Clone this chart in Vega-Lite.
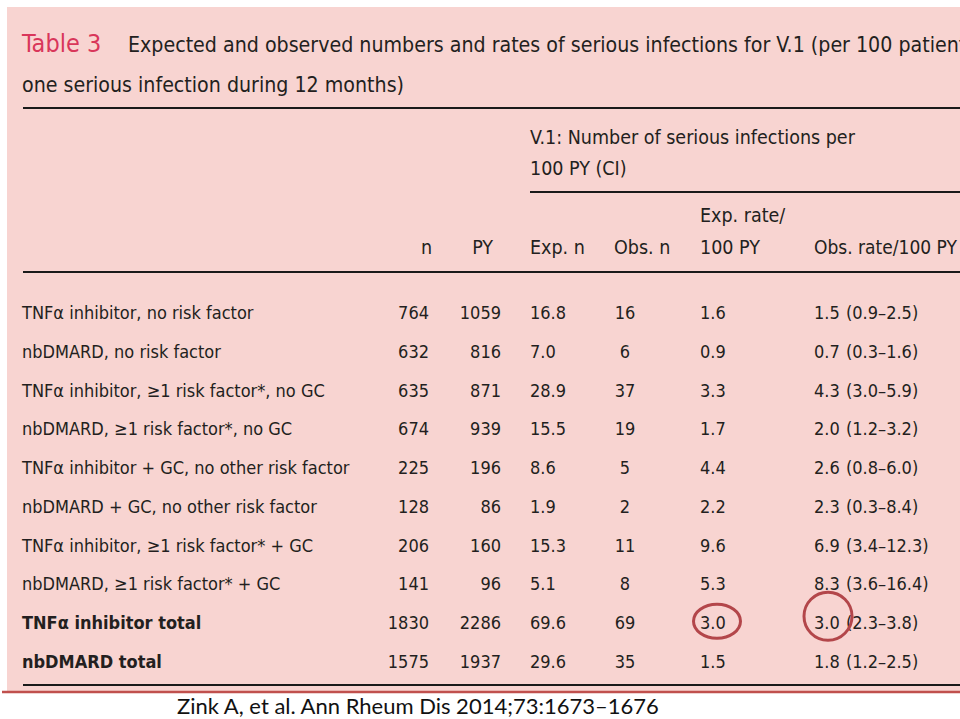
{
  "$schema": "https://vega.github.io/schema/vega-lite/v6.json",
  "width": 960,
  "height": 719,
  "autosize": {"type": "fit", "contains": "padding"},
  "padding": 0,
  "background": "#ffffff",
  "config": {
    "view": {"stroke": null},
    "text": {"font": "DejaVu Sans Condensed", "fontSize": 18, "color": "#231f20", "baseline": "alphabetic"}
  },
  "datasets": {
    "one": [{}],
    "table": [
      {"row": 1, "label": "TNFα inhibitor, no risk factor", "n": 764, "py": 1059, "expN": 16.8, "obsN": 16, "expRate": 1.6, "obsRate": 1.5, "ci": "(0.9–2.5)"},
      {"row": 2, "label": "nbDMARD, no risk factor", "n": 632, "py": 816, "expN": 7.0, "obsN": 6, "expRate": 0.9, "obsRate": 0.7, "ci": "(0.3–1.6)"},
      {"row": 3, "label": "TNFα inhibitor, ≥1 risk factor*, no GC", "n": 635, "py": 871, "expN": 28.9, "obsN": 37, "expRate": 3.3, "obsRate": 4.3, "ci": "(3.0–5.9)"},
      {"row": 4, "label": "nbDMARD, ≥1 risk factor*, no GC", "n": 674, "py": 939, "expN": 15.5, "obsN": 19, "expRate": 1.7, "obsRate": 2.0, "ci": "(1.2–3.2)"},
      {"row": 5, "label": "TNFα inhibitor + GC, no other risk factor", "n": 225, "py": 196, "expN": 8.6, "obsN": 5, "expRate": 4.4, "obsRate": 2.6, "ci": "(0.8–6.0)"},
      {"row": 6, "label": "nbDMARD + GC, no other risk factor", "n": 128, "py": 86, "expN": 1.9, "obsN": 2, "expRate": 2.2, "obsRate": 2.3, "ci": "(0.3–8.4)"},
      {"row": 7, "label": "TNFα inhibitor, ≥1 risk factor* + GC", "n": 206, "py": 160, "expN": 15.3, "obsN": 11, "expRate": 9.6, "obsRate": 6.9, "ci": "(3.4–12.3)"},
      {"row": 8, "label": "nbDMARD, ≥1 risk factor* + GC", "n": 141, "py": 96, "expN": 5.1, "obsN": 8, "expRate": 5.3, "obsRate": 8.3, "ci": "(3.6–16.4)"},
      {"row": 9, "label": "TNFα inhibitor total", "n": 1830, "py": 2286, "expN": 69.6, "obsN": 69, "expRate": 3.0, "obsRate": 3.0, "ci": "(2.3–3.8)"},
      {"row": 10, "label": "nbDMARD total", "n": 1575, "py": 1937, "expN": 29.6, "obsN": 35, "expRate": 1.5, "obsRate": 1.8, "ci": "(1.2–2.5)"}
    ]
  },
  "layer": [
    {
      "data": {"name": "one"},
      "mark": {"type": "rect", "fill": "#f8d4d1"},
      "encoding": {"x": {"value": 5}, "x2": {"value": 960}, "y": {"value": 7}, "y2": {"value": 691}}
    },
    {
      "data": {"name": "one"},
      "mark": {"type": "text", "text": "Table 3", "fontSize": 25, "color": "#d9365a", "align": "left"},
      "encoding": {"x": {"value": 20}, "y": {"value": 52}}
    },
    {
      "data": {"name": "one"},
      "mark": {"type": "text", "text": "Expected and observed numbers and rates of serious infections for V.1 (per 100 patient-years and patients with at least", "fontSize": 21.2, "align": "left"},
      "encoding": {"x": {"value": 126}, "y": {"value": 52}}
    },
    {
      "data": {"name": "one"},
      "mark": {"type": "text", "text": "one serious infection during 12 months)", "fontSize": 21.2, "align": "left"},
      "encoding": {"x": {"value": 20}, "y": {"value": 92}}
    },
    {
      "data": {"name": "one"},
      "mark": {"type": "rule", "color": "#1a1a1a", "strokeWidth": 2},
      "encoding": {"x": {"value": 21}, "x2": {"value": 960}, "y": {"value": 108}, "y2": {"value": 108}}
    },
    {
      "data": {"name": "one"},
      "mark": {"type": "rule", "color": "#1a1a1a", "strokeWidth": 2},
      "encoding": {"x": {"value": 528}, "x2": {"value": 960}, "y": {"value": 192}, "y2": {"value": 192}}
    },
    {
      "data": {"name": "one"},
      "mark": {"type": "rule", "color": "#1a1a1a", "strokeWidth": 2},
      "encoding": {"x": {"value": 21}, "x2": {"value": 960}, "y": {"value": 272}, "y2": {"value": 272}}
    },
    {
      "data": {"name": "one"},
      "mark": {"type": "rule", "color": "#1a1a1a", "strokeWidth": 2},
      "encoding": {"x": {"value": 21}, "x2": {"value": 960}, "y": {"value": 685}, "y2": {"value": 685}}
    },
    {
      "data": {"name": "one"},
      "mark": {"type": "rule", "color": "#c0504d", "strokeWidth": 2.5},
      "encoding": {"x": {"value": 0}, "x2": {"value": 960}, "y": {"value": 692}, "y2": {"value": 692}}
    },
    {
      "data": {"name": "one"},
      "mark": {"type": "text", "text": ["V.1: Number of serious infections per", "100 PY (CI)"], "fontSize": 19.5, "align": "left", "lineHeight": 31},
      "encoding": {"x": {"value": 528}, "y": {"value": 144}}
    },
    {
      "data": {"name": "one"},
      "mark": {"type": "text", "text": ["Exp. rate/", "100 PY"], "fontSize": 19.5, "align": "left", "lineHeight": 32},
      "encoding": {"x": {"value": 698}, "y": {"value": 222}}
    },
    {
      "data": {"name": "one"},
      "mark": {"type": "text", "text": "n", "fontSize": 19.5, "align": "right"},
      "encoding": {"x": {"value": 430}, "y": {"value": 254}}
    },
    {
      "data": {"name": "one"},
      "mark": {"type": "text", "text": "PY", "fontSize": 19.5, "align": "right"},
      "encoding": {"x": {"value": 491}, "y": {"value": 254}}
    },
    {
      "data": {"name": "one"},
      "mark": {"type": "text", "text": "Exp. n", "fontSize": 19.5, "align": "left"},
      "encoding": {"x": {"value": 528}, "y": {"value": 254}}
    },
    {
      "data": {"name": "one"},
      "mark": {"type": "text", "text": "Obs. n", "fontSize": 19.5, "align": "left"},
      "encoding": {"x": {"value": 612}, "y": {"value": 254}}
    },
    {
      "data": {"name": "one"},
      "mark": {"type": "text", "text": "Obs. rate/100 PY", "fontSize": 19, "align": "left"},
      "encoding": {"x": {"value": 812}, "y": {"value": 254}}
    },
    {
      "data": {"name": "table"},
      "transform": [{"filter": "indexof(datum.label, 'total') < 0"}],
      "mark": {"type": "text", "align": "left"},
      "encoding": {
        "x": {"value": 20},
        "y": {"field": "row", "type": "quantitative", "scale": {"domain": [1, 10], "range": [319, 668], "zero": false, "nice": false}, "axis": null},
        "text": {"field": "label", "type": "nominal"}
      }
    },
    {
      "data": {"name": "table"},
      "transform": [{"filter": "indexof(datum.label, 'total') >= 0"}],
      "mark": {"type": "text", "align": "left", "fontWeight": "bold"},
      "encoding": {
        "x": {"value": 20},
        "y": {"field": "row", "type": "quantitative"},
        "text": {"field": "label", "type": "nominal"}
      }
    },
    {
      "data": {"name": "table"},
      "mark": {"type": "text", "align": "right"},
      "encoding": {
        "x": {"value": 427},
        "y": {"field": "row", "type": "quantitative"},
        "text": {"field": "n", "type": "quantitative", "format": "d"}
      }
    },
    {
      "data": {"name": "table"},
      "mark": {"type": "text", "align": "right"},
      "encoding": {
        "x": {"value": 499},
        "y": {"field": "row", "type": "quantitative"},
        "text": {"field": "py", "type": "quantitative", "format": "d"}
      }
    },
    {
      "data": {"name": "table"},
      "mark": {"type": "text", "align": "left"},
      "encoding": {
        "x": {"value": 528},
        "y": {"field": "row", "type": "quantitative"},
        "text": {"field": "expN", "type": "quantitative", "format": ".1f"}
      }
    },
    {
      "data": {"name": "table"},
      "mark": {"type": "text", "align": "center"},
      "encoding": {
        "x": {"value": 623},
        "y": {"field": "row", "type": "quantitative"},
        "text": {"field": "obsN", "type": "quantitative", "format": "d"}
      }
    },
    {
      "data": {"name": "table"},
      "mark": {"type": "text", "align": "left"},
      "encoding": {
        "x": {"value": 698},
        "y": {"field": "row", "type": "quantitative"},
        "text": {"field": "expRate", "type": "quantitative", "format": ".1f"}
      }
    },
    {
      "data": {"name": "table"},
      "mark": {"type": "text", "align": "left"},
      "encoding": {
        "x": {"value": 812},
        "y": {"field": "row", "type": "quantitative"},
        "text": {"field": "obsRate", "type": "quantitative", "format": ".1f"}
      }
    },
    {
      "data": {"name": "table"},
      "mark": {"type": "text", "align": "left"},
      "encoding": {
        "x": {"value": 844},
        "y": {"field": "row", "type": "quantitative"},
        "text": {"field": "ci", "type": "nominal"}
      }
    },
    {
      "data": {"name": "table"},
      "transform": [{"filter": "datum.row === 9"}],
      "mark": {"type": "point", "shape": "M-1,0A1,0.72,0,1,1,1,0A1,0.72,0,1,1,-1,0Z", "size": 2209, "filled": false, "stroke": "#b3464a", "strokeWidth": 3, "opacity": 1},
      "encoding": {
        "x": {"value": 715},
        "y": {"field": "row", "type": "quantitative"},
        "yOffset": {"value": -8}
      }
    },
    {
      "data": {"name": "table"},
      "transform": [{"filter": "datum.row === 9"}],
      "mark": {"type": "point", "shape": "circle", "size": 2304, "filled": false, "stroke": "#b3464a", "strokeWidth": 3, "opacity": 1},
      "encoding": {
        "x": {"value": 826},
        "y": {"field": "row", "type": "quantitative"},
        "yOffset": {"value": -13}
      }
    },
    {
      "data": {"name": "one"},
      "mark": {"type": "text", "text": "Zink A, et al. Ann Rheum Dis 2014;73:1673–1676", "font": "Lato", "fontSize": 22, "color": "#111111", "align": "left"},
      "encoding": {"x": {"value": 175}, "y": {"value": 714}}
    }
  ]
}
